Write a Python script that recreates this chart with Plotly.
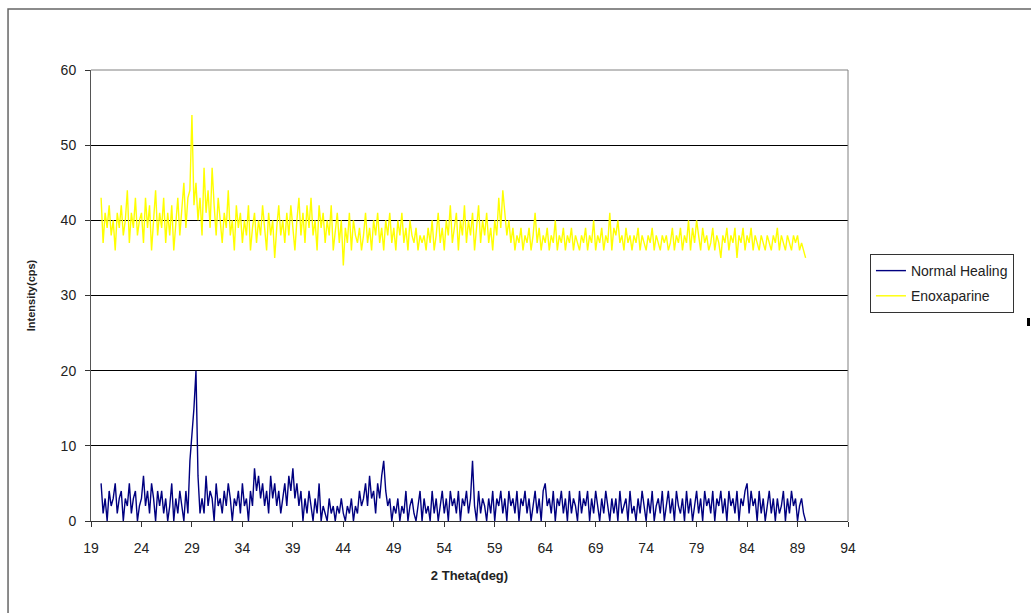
import numpy as np
import plotly.graph_objects as go

# 2-theta positions: 20.0 .. 89.8 deg, step 0.2
two_theta = np.round(np.arange(20.0, 90.0, 0.2), 1)

normal_healing = [
    5, 1, 3, 0, 4, 2, 3, 5, 1, 3,
    4, 0, 3, 2, 5, 1, 3, 4, 0, 2,
    3, 6, 2, 4, 1, 5, 3, 0, 4, 2,
    4, 1, 3, 0, 2, 5, 0, 3, 1, 4,
    2, 0, 4, 1, 8, 11, 15, 20, 6, 1,
    3, 1, 6, 2, 4, 3, 0, 5, 2, 3,
    1, 4, 2, 5, 3, 0, 3, 2, 4, 1,
    5, 2, 3, 0, 4, 2, 7, 4, 6, 3,
    5, 2, 4, 1, 6, 3, 5, 2, 4, 1,
    3, 5, 2, 6, 4, 7, 3, 5, 2, 4,
    0, 3, 1, 4, 2, 0, 3, 1, 5, 0,
    2, 1, 0, 3, 1, 2, 0, 2, 1, 3,
    1, 0, 2, 1, 3, 0, 2, 1, 4, 2,
    3, 5, 2, 6, 3, 4, 1, 5, 3, 6,
    8, 4, 2, 3, 0, 2, 1, 3, 0, 2,
    1, 4, 0, 2, 3, 1, 0, 2, 4, 0,
    3, 1, 2, 0, 4, 1, 3, 0, 2, 4,
    1, 3, 0, 4, 2, 3, 1, 4, 0, 3,
    2, 4, 1, 3, 8, 2, 0, 4, 1, 3,
    2, 0, 3, 1, 4, 0, 3, 2, 4, 1,
    3, 0, 4, 2, 3, 1, 4, 0, 3, 2,
    4, 1, 3, 0, 2, 4, 1, 3, 0, 4,
    5, 2, 3, 1, 4, 0, 3, 2, 4, 1,
    3, 0, 4, 1, 3, 2, 0, 4, 1, 3,
    2, 4, 0, 3, 1, 4, 2, 0, 3, 1,
    4, 2, 0, 3, 1, 3, 0, 4, 1, 2,
    3, 0, 4, 1, 2, 0, 3, 1, 4, 2,
    0, 3, 1, 4, 0, 2, 3, 1, 4, 0,
    2, 4, 1, 3, 0, 4, 2, 1, 3, 0,
    4, 1, 3, 0, 2, 4, 1, 3, 0, 4,
    2, 3, 1, 4, 0, 3, 2, 4, 1, 3,
    0, 4, 2, 3, 1, 4, 0, 3, 2, 4,
    5, 1, 4, 2, 3, 0, 4, 1, 3, 0,
    2, 4, 1, 3, 0, 3, 1, 2, 4, 0,
    3, 1, 4, 2, 3, 0, 2, 3, 1, 0,
]

enoxaparine = [
    43, 37, 41, 39, 42, 38, 40, 36, 41, 39,
    42, 38, 40, 44, 37, 41, 39, 43, 38, 40,
    41, 37, 43, 39, 42, 36, 40, 44, 38, 41,
    39, 43, 37, 41, 38, 42, 36, 40, 43, 38,
    41, 45, 39, 43, 44, 54, 42, 45, 40, 43,
    38, 47, 41, 44, 39, 47, 42, 38, 43, 40,
    37, 41, 39, 44, 38, 40, 36, 42, 39, 41,
    37, 40, 38, 42, 36, 39, 41, 37, 40, 38,
    42, 39, 36, 41, 38, 40, 35, 39, 42, 38,
    40, 37, 41, 38, 42, 39, 36, 40, 43, 38,
    41, 37, 42, 39, 43, 38, 40, 36, 42, 39,
    41, 37, 40, 38, 42, 36, 39, 41, 37, 40,
    34, 39, 37, 41, 36, 40, 38, 37, 39, 36,
    38, 41, 37, 39, 36, 40, 38, 41, 37, 39,
    36, 40, 38, 41, 37, 39, 36, 40, 38, 41,
    37, 39, 36, 40, 38, 37, 39, 36, 38, 37,
    38, 36, 39, 37, 40, 36, 38, 41, 37, 39,
    36, 40, 38, 42, 37, 39, 41, 36, 40, 38,
    42, 37, 40, 38, 41, 36, 39, 42, 37, 40,
    38, 41, 37, 39, 36, 40, 38, 43, 39, 44,
    41, 38, 40, 37, 39, 36, 38, 37, 39, 36,
    38, 37, 39, 36, 38, 41, 37, 39, 36, 38,
    37, 39, 36, 38, 37, 40, 36, 38, 37, 39,
    36, 38, 37, 39, 36, 38, 37, 36, 38, 37,
    39, 36, 38, 37, 40, 36, 38, 37, 39, 36,
    38, 37, 41, 36, 39, 38, 40, 37, 38, 36,
    39, 37, 38, 36, 38, 37, 39, 36, 38, 37,
    36, 38, 37, 39, 36, 38, 37, 36, 38, 37,
    38, 36, 37, 39, 36, 38, 37, 39, 36, 38,
    37, 40, 36, 39, 37, 40, 38, 36, 39, 37,
    38, 36, 37, 39, 36, 38, 37, 35, 38, 37,
    39, 36, 38, 37, 39, 35, 38, 37, 39, 36,
    38, 37, 39, 36, 38, 37, 36, 38, 37, 36,
    38, 37, 36, 38, 37, 39, 36, 38, 37, 36,
    38, 37, 36, 38, 37, 38, 36, 37, 36, 35,
]

x_ticks = list(range(19, 95, 5))
y_ticks = list(range(0, 61, 10))

FONT = "Liberation Sans, Arial, sans-serif"

fig = go.Figure()
fig.add_trace(go.Scatter(
    x=two_theta, y=normal_healing, mode="lines", name="Normal Healing",
    line=dict(color="#000080", width=1.4), legendgroup="a",
))
fig.add_trace(go.Scatter(
    x=two_theta, y=enoxaparine, mode="lines", name="Enoxaparine",
    line=dict(color="#FFFF00", width=1.4), legendgroup="b",
))

fig.update_layout(
    width=1031, height=613,
    margin=dict(l=91, r=183, t=70, b=92),
    paper_bgcolor="white", plot_bgcolor="white",
    font=dict(family=FONT, size=14, color="#222222"),
    showlegend=True,
    legend=dict(
        x=1.029, y=0.592, xanchor="left", yanchor="top",
        bordercolor="#333333", borderwidth=1, bgcolor="white",
        font=dict(family=FONT, size=14, color="#222222"),
        tracegroupgap=4, traceorder="grouped",
    ),
    xaxis=dict(
        range=[19, 94], tickmode="array", tickvals=x_ticks,
        ticks="outside", ticklen=5, tickcolor="#333333",
        ticklabelstandoff=9,
        showline=True, linecolor="#333333", linewidth=1, mirror=False,
        showgrid=False, zeroline=False,
        title=dict(text="<b>2 Theta(deg)</b>", font=dict(size=13, color="#222222"), standoff=16),
    ),
    yaxis=dict(
        range=[0, 60], tickmode="array", tickvals=y_ticks,
        ticks="outside", ticklen=5, tickcolor="#333333",
        ticklabelstandoff=6,
        showline=True, linecolor="#555555", linewidth=1,
        showgrid=True, gridcolor="#000000", gridwidth=1, zeroline=False,
        title=dict(text="<b>Intensity(cps)</b>", font=dict(size=11, color="#222222"), standoff=22),
    ),
    shapes=[
        # plot area frame (top and right edges)
        dict(type="line", xref="paper", yref="paper", x0=0, x1=1, y0=1, y1=1,
             line=dict(color="#808080", width=1)),
        dict(type="line", xref="paper", yref="paper", x0=1, x1=1, y0=0, y1=1,
             line=dict(color="#808080", width=1)),
        # chart outer border
        dict(type="rect", xref="paper", yref="paper",
             x0=-0.1096, x1=1.35, y0=-0.35, y1=1.1353,
             line=dict(color="#666666", width=1.5), layer="below"),
        # small mark at right edge
        dict(type="rect", xref="paper", yref="paper",
             x0=(1027 - 91) / 757, x1=(1030 - 91) / 757,
             y0=(521 - 326) / 451, y1=(521 - 318) / 451,
             fillcolor="black", line=dict(width=0)),
    ],
)

fig.write_html("out.html")
